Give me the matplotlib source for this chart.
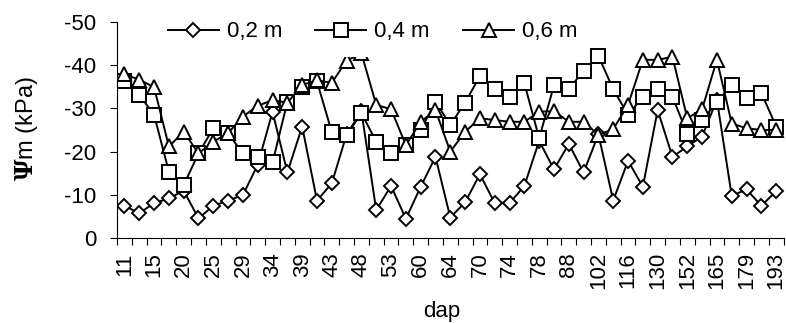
import matplotlib
matplotlib.use("Agg")
import matplotlib.pyplot as plt
from matplotlib.patches import Rectangle
import numpy as np

plt.rcParams['font.family'] = ['Liberation Sans', 'DejaVu Sans']
plt.rcParams['axes.unicode_minus'] = False
plt.rcParams['mathtext.fontset'] = 'dejavuserif'

# only every second dap value is printed on the axis
dap_labels = ['11', '15', '20', '25', '29', '34', '39', '43', '48', '53', '60', '64',
              '70', '74', '78', '88', '102', '116', '130', '152', '165', '179', '193']

# soil water potential (kPa) at three depths, one value per sampling day
psi_02 = [-7.5, -5.8, -8.1, -9.2, -11.0, -4.6, -7.5, -8.7, -10.0, -17.0,
          -29.2, -15.2, -25.8, -8.7, -12.7, -24.0, -29.3, -6.5, -12.1, -4.5,
          -11.9, -18.8, -4.8, -8.3, -14.8, -8.1, -8.1, -12.1, -22.5, -15.9,
          -21.8, -15.2, -24.0, -8.7, -17.9, -11.9, -29.6, -18.8, -21.2, -23.5,
          -32.0, -9.8, -11.3, -7.5, -10.9]
psi_04 = [-36.4, -33.1, -28.5, -15.4, -12.3, -19.6, -25.4, -24.2, -19.6, -18.8,
          -17.5, -31.5, -35.0, -36.2, -24.5, -23.8, -28.9, -22.3, -19.8, -21.5,
          -25.0, -31.5, -26.2, -31.3, -37.5, -34.4, -32.7, -35.8, -23.1, -35.3,
          -34.4, -38.7, -42.1, -34.4, -28.5, -32.7, -34.4, -32.7, -24.1, -27.2,
          -31.5, -35.4, -32.3, -33.6, -25.8]
psi_06 = [-37.9, -36.6, -34.9, -21.2, -24.6, -19.6, -22.3, -24.3, -28.1, -30.6,
          -31.9, -31.3, -35.4, -36.5, -35.9, -41.0, -42.7, -30.8, -29.8, -21.5,
          -26.9, -29.6, -20.0, -24.6, -27.7, -27.3, -26.9, -26.9, -29.2, -29.4,
          -26.9, -26.9, -23.9, -25.2, -30.8, -41.2, -41.2, -41.9, -27.7, -29.8,
          -41.2, -26.5, -25.4, -25.0, -25.0]

fs = 16
n = len(psi_02)
x = np.arange(n)

fig = plt.figure(figsize=(7.86, 3.23), dpi=100)
ax = fig.add_axes([0.1489, 0.2622, 0.848, 0.6706])

style = dict(color='black', lw=1.4, mfc='white', mec='black', mew=1.4)
ax.plot(x, psi_02, marker='D', ms=6.9, label='0,2 m', **style)
ax.plot(x, psi_04, marker='s', ms=9.5, label='0,4 m', **style)
ax.plot(x, psi_06, marker='^', ms=10, label='0,6 m', **style)

ax.set_xlim(-0.5, n - 0.5)
ax.set_ylim(0, -50)
ax.set_yticks(np.arange(0, -51, -10))

# labels on every 2nd category, tick marks on the category borders
ax.set_xticks(x[::2])
ax.set_xticklabels(dap_labels, rotation=90)
ax.set_xticks(np.arange(n + 1) - 0.5, minor=True)
ax.tick_params(axis='x', which='major', length=0, pad=10, labelsize=fs)
ax.tick_params(axis='x', which='minor', length=5, width=0.8, direction='out')
ax.tick_params(axis='y', length=5, width=0.8, pad=10, labelsize=fs)

for side in ['top', 'right']:
    ax.spines[side].set_visible(False)
for side in ['left', 'bottom']:
    ax.spines[side].set_linewidth(0.8)

fig.text(27 / 786, 1 - 129 / 323, r'$\mathbf{\Psi}$m (kPa)', rotation=90,
         ha='center', va='center', fontsize=17)
fig.text(442 / 786, 1 - 311 / 323, 'dap', ha='center', va='center', fontsize=fs)

# the excel legend box is taller than its text and hides what runs under it
ax.add_patch(Rectangle((150 / 786, 1 - 57 / 323), 440 / 786, 57 / 323,
                       transform=fig.transFigure, facecolor='white', edgecolor='none',
                       zorder=4, clip_on=False))
leg = ax.legend(loc='center', bbox_to_anchor=(0.474, 1 - 32 / 323), bbox_transform=fig.transFigure,
                ncol=3, fontsize=fs, handlelength=2.3, handletextpad=0.35,
                columnspacing=1.5, borderpad=0.3, frameon=False)

fig.savefig('out.png', dpi=100)
